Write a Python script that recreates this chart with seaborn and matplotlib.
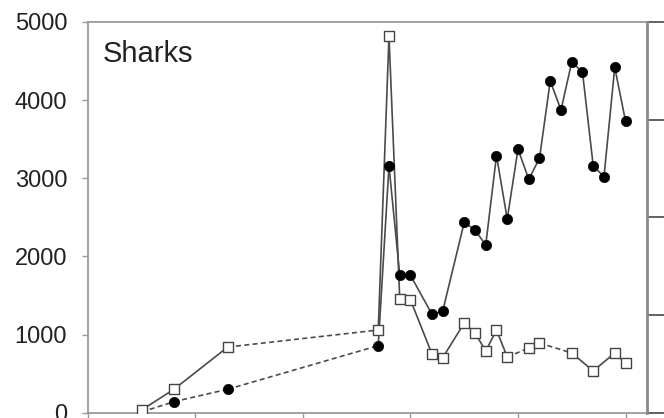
import numpy as np
import pandas as pd
import matplotlib
matplotlib.use("Agg")
import matplotlib.pyplot as plt
import seaborn as sns

# open squares series
sq_years = [1955, 1958, 1963, 1977, 1978, 1979, 1980, 1982, 1983, 1985,
            1986, 1987, 1988, 1989, 1991, 1992, 1995, 1997, 1999, 2000]
sq_values = [35, 300, 840, 1058, 4820, 1455, 1443, 751, 705, 1148,
             1020, 790, 1058, 713, 828, 892, 764, 534, 764, 636]
sq_dashed_from = [1963, 1989, 1992]

# filled circles series
ci_years = [1955, 1958, 1963, 1977, 1978, 1979, 1980, 1982, 1983, 1985,
            1986, 1987, 1988, 1989, 1990, 1991, 1992, 1993, 1994, 1995,
            1996, 1997, 1998, 1999, 2000]
ci_values = [10, 141, 300, 858, 3157, 1762, 1758, 1259, 1301, 2437,
             2338, 2146, 3289, 2479, 3373, 2987, 3256, 4245, 3874, 4488,
             4356, 3157, 3020, 4420, 3733]
ci_dashed_from = [1955, 1958, 1963]

y_ticks = [0, 1000, 2000, 3000, 4000, 5000]
x_ticks = [1950, 1960, 1970, 1980, 1990, 2000]


def segments(years, values, dashed_from):
    rows = []
    for i in range(len(years) - 1):
        kind = "dashed" if years[i] in dashed_from else "solid"
        for j in (i, i + 1):
            rows.append({"year": years[j], "value": values[j], "seg": i, "kind": kind})
    return pd.DataFrame(rows)


sns.set_style("white")
plt.rcParams["font.family"] = ["Liberation Sans", "DejaVu Sans"]

fig = plt.figure(figsize=(6.64, 4.18), dpi=100)
ax = fig.add_axes([0.1325, 0.0127, 0.8419, 0.9347])

line_col = "#4a4a4a"
dashes = {"solid": "", "dashed": (3, 2)}

ci_seg = segments(ci_years, ci_values, ci_dashed_from)
sns.lineplot(data=ci_seg, x="year", y="value", units="seg", estimator=None,
             style="kind", dashes=dashes, color=line_col, lw=1.2,
             legend=False, ax=ax, zorder=2)
sq_seg = segments(sq_years, sq_values, sq_dashed_from)
sns.lineplot(data=sq_seg, x="year", y="value", units="seg", estimator=None,
             style="kind", dashes=dashes, color=line_col, lw=1.2,
             legend=False, ax=ax, zorder=2)

sns.scatterplot(x=ci_years, y=ci_values, marker="o", s=55, color="black",
                edgecolor="black", linewidth=0.5, ax=ax, zorder=3)
sns.scatterplot(x=sq_years, y=sq_values, marker="s", s=50, color="white",
                edgecolor="#444444", linewidth=1.0, ax=ax, zorder=4)

ax.set_xlim(1950, 2002)
ax.set_ylim(0, 5000)
ax.set_xticks(x_ticks)
ax.set_xticklabels([])
ax.set_yticks(y_ticks)
ax.set_yticklabels([str(v) for v in y_ticks], fontsize=17, color="#222222")
ax.set_xlabel("")
ax.set_ylabel("")
ax.tick_params(axis="y", direction="out", length=4.5, width=1, color="#999999", pad=10.5, left=True)
ax.tick_params(axis="x", direction="out", length=8, width=1, color="#999999", bottom=True)

for side in ["left", "top", "bottom"]:
    ax.spines[side].set_color("#9a9a9a")
    ax.spines[side].set_linewidth(1.3)
ax.spines["right"].set_visible(False)

ax2 = ax.twinx()
ax2.set_ylim(0, 4)
ax2.set_yticks([0, 1, 2, 3, 4])
ax2.set_yticklabels([])
ax2.tick_params(axis="y", direction="out", length=14, width=1.3, color="#555555", right=True)
for side in ["left", "top", "bottom"]:
    ax2.spines[side].set_visible(False)
ax2.spines["right"].set_color("#8a8a8a")
ax2.spines["right"].set_linewidth(2)

ax.text(0.027, 0.955, "Sharks", transform=ax.transAxes, fontsize=21,
        color="#222222", ha="left", va="top")

fig.savefig("out.png", dpi=100)
